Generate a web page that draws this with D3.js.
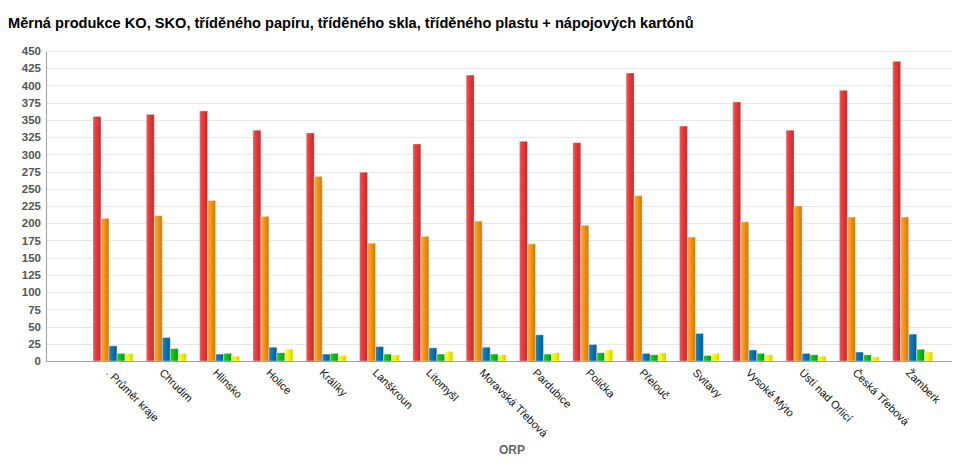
<!DOCTYPE html>
<html>
<head>
<meta charset="utf-8">
<script src="https://cdn.jsdelivr.net/npm/d3@7"></script>
<style>
  html, body { margin: 0; padding: 0; background: #fff; }
  svg { display: block; }
</style>
</head>
<body>
<svg id="chart" width="953" height="467"></svg>
<script>
const categories = [". Průměr kraje", "Chrudim", "Hlinsko", "Holice", "Králíky", "Lanškroun", "Litomyšl",
  "Moravská Třebová", "Pardubice", "Polička", "Přelouč", "Svitavy", "Vysoké Mýto", "Ústí nad Orlicí",
  "Česká Třebová", "Žamberk"];
const seriesNames = ["KO", "SKO", "tříděný papír", "tříděné sklo", "tříděný plast + nápojové kartóny"];
const valuesKO     = [355, 358, 363, 335, 331, 274, 315, 415, 319, 317, 418, 341, 376, 335, 393, 435];
const valuesSKO    = [207, 211, 233, 210, 268, 171, 181, 203, 170, 197, 240, 180, 202, 225, 209, 209];
const valuesPapir  = [22, 34, 10, 20, 10, 21, 19, 20, 38, 24, 11, 40, 16, 11, 13, 39];
const valuesSklo   = [11, 18, 11, 12, 11, 10, 10, 10, 10, 12, 9, 8, 11, 9, 9, 17];
const valuesPlast  = [11, 11, 7, 17, 8, 9, 14, 9, 12, 16, 12, 11, 9, 7, 6, 13];
const yTicks = [0, 25, 50, 75, 100, 125, 150, 175, 200, 225, 250, 275, 300, 325, 350, 375, 400, 425, 450];
const title = "Měrná produkce KO, SKO, tříděného papíru, tříděného skla, tříděného plastu + nápojových kartónů";
const xTitle = "ORP";

const seriesValues = [valuesKO, valuesSKO, valuesPapir, valuesSklo, valuesPlast];
const palette = [
  ["#f55a5a", "#ec3c3c", "#b92d2d"],
  ["#ffab2a", "#f7981a", "#c8770e"],
  ["#1a8ed0", "#0a78b8", "#075887"],
  ["#22d02a", "#10c01c", "#0a9212"],
  ["#ffff40", "#f8f810", "#cfcf00"]
];

const svg = d3.select("#chart");
const defs = svg.append("defs");
palette.forEach((c, i) => {
  const g = defs.append("linearGradient").attr("id", "grad" + i)
    .attr("x1", "0%").attr("x2", "100%").attr("y1", "0%").attr("y2", "0%");
  g.append("stop").attr("offset", "0%").attr("stop-color", c[0]);
  g.append("stop").attr("offset", "35%").attr("stop-color", c[1]);
  g.append("stop").attr("offset", "100%").attr("stop-color", c[2]);
});

const plot = { left: 46, right: 952, top: 51, bottom: 361 };

const y = d3.scaleLinear().domain([0, 450]).range([plot.bottom, plot.top]);
const x0 = d3.scaleBand().domain(categories).range([86.3, 939.3]).paddingInner(0.25).paddingOuter(0.125);
const x1 = d3.scaleBand().domain(seriesNames).range([0, x0.bandwidth()]);

// Title
svg.append("text").attr("x", 8).attr("y", 28)
  .attr("font-family", "Liberation Sans, Arial, sans-serif").attr("font-size", 14.6).attr("font-weight", "bold")
  .attr("fill", "#000").text(title);

// Grid lines
svg.append("g").selectAll("line").data(yTicks.filter(t => t > 0)).join("line")
  .attr("x1", plot.left).attr("x2", plot.right)
  .attr("y1", d => Math.round(y(d)) + 0.5).attr("y2", d => Math.round(y(d)) + 0.5)
  .attr("stroke", "#e8e8e8").attr("stroke-width", 1);

// Y axis
const yAxis = svg.append("g").attr("transform", `translate(${plot.left},0)`)
  .call(d3.axisLeft(y).tickValues(yTicks).tickSize(0).tickPadding(5));
yAxis.select(".domain").attr("stroke", "#a0a0a0");
yAxis.selectAll("text").attr("font-family", "Liberation Sans, Arial, sans-serif")
  .attr("font-size", 11.5).attr("font-weight", "bold").attr("fill", "#555");

// Bars
const groups = svg.append("g").selectAll("g").data(categories).join("g")
  .attr("transform", d => `translate(${x0(d)},0)`);
groups.selectAll("rect").data((d, ci) => seriesNames.map((s, si) => ({ s, si, v: seriesValues[si][ci] })))
  .join("rect")
  .attr("x", d => x1(d.s))
  .attr("y", d => y(d.v))
  .attr("width", x1.bandwidth())
  .attr("height", d => y(0) - y(d.v))
  .attr("fill", d => `url(#grad${d.si})`)
  .attr("stroke", "rgba(255,255,255,0.35)")
  .attr("stroke-width", 1);

// X axis
const xAxis = svg.append("g").attr("transform", `translate(0,${plot.bottom})`);
xAxis.append("line").attr("x1", plot.left).attr("x2", plot.right).attr("y1", 0.5).attr("y2", 0.5)
  .attr("stroke", "#a0a0a0");
xAxis.selectAll("text.cat").data(categories).join("text").attr("class", "cat")
  .attr("transform", d => `translate(${x0(d) + x0.bandwidth() / 2 - 2},${7}) rotate(45)`)
  .attr("dy", "0.7em")
  .attr("font-family", "Liberation Sans, Arial, sans-serif").attr("font-size", 11)
  .attr("fill", "#111").attr("text-anchor", "start").text(d => d);

svg.append("text").attr("x", 512).attr("y", 454).attr("text-anchor", "middle")
  .attr("font-family", "Liberation Sans, Arial, sans-serif").attr("font-size", 12).attr("font-weight", "bold")
  .attr("fill", "#666").text(xTitle);
</script>
</body>
</html>
